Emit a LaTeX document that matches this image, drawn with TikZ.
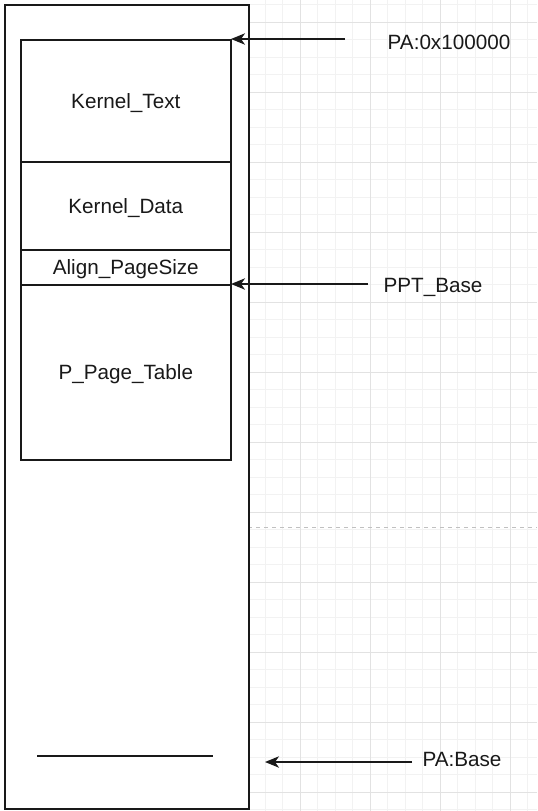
\documentclass[tikz,border=0pt]{standalone}
\usepackage{fontspec}
\setmainfont{Liberation Sans}
\usetikzlibrary{arrows.meta}
\definecolor{gridminor}{HTML}{F2F2F2}
\definecolor{gridmajor}{HTML}{E2E2E2}
\definecolor{pagebreak}{HTML}{C0C0C0}
\begin{document}
\begin{tikzpicture}[x=0.75pt,y=-0.75pt,
  box/.style={draw=black!90,line width=1.4pt},
  seg/.style={draw=black!90,line width=1.2pt,text depth=0pt},
  lbl/.style={font=\fontsize{15.5pt}{18pt}\selectfont,text=black!90},
  ptr/.style={draw=black!90,line width=1.2pt,-{Stealth[length=10.5pt,width=8.5pt,inset=3pt]}}]
\useasboundingbox (0,0) rectangle (537,811);
\fill[white] (0,0) rectangle (537,811);
% grid
\foreach \i in {2,...,35} {
  \draw[gridminor,line width=0.6pt] ({230+17.5*\i},0) -- ({230+17.5*\i},811);
}
\foreach \j in {0,...,47} {
  \draw[gridminor,line width=0.6pt] (248,{4.5+17.5*\j}) -- (537,{4.5+17.5*\j});
}
\foreach \i in {1,...,8} {
  \draw[gridmajor,line width=0.6pt] ({230+70*\i},0) -- ({230+70*\i},811);
}
\foreach \j in {0,...,11} {
  \draw[gridmajor,line width=0.6pt] (248,{22+70*\j}) -- (537,{22+70*\j});
}
\draw[pagebreak,dashed,line width=0.6pt] (248,527.3) -- (537,527.3);
% outer box
\node[box,fill=white,minimum width=244*0.75pt,minimum height=804*0.75pt,inner sep=0pt,anchor=north west] (outer) at (4,4) {};
% inner segments
\node[seg,minimum width=210*0.75pt,minimum height=122*0.75pt,inner sep=0pt,anchor=north west,lbl] (ktext) at (20,39) {Kernel\_Text};
\node[seg,minimum width=210*0.75pt,minimum height=88*0.75pt,inner sep=0pt,anchor=north west,lbl] (kdata) at (20,161) {Kernel\_Data};
\node[seg,minimum width=210*0.75pt,minimum height=35*0.75pt,inner sep=0pt,anchor=north west,lbl] (align) at (20,249) {Align\_PageSize};
\node[seg,minimum width=210*0.75pt,minimum height=175*0.75pt,inner sep=0pt,anchor=north west,lbl] (ppt) at (20,284) {P\_Page\_Table};
% bottom line
\coordinate (bl) at (37,756);
\coordinate (br) at (213,756);
\draw[seg] (bl) -- (br);
% labels
\node[lbl] (pa1) at (449,42) {PA:0x100000};
\node[lbl] (pptb) at (433,287) {PPT\_Base};
\node[lbl] (pab) at (462,759) {PA:Base};
\coordinate (a1s) at (345,39);
\coordinate (a1e) at (231,39);
\coordinate (a2s) at (368,284);
\coordinate (a2e) at (231,284);
\coordinate (a3s) at (412,762);
\coordinate (a3e) at (265,762);
\draw[ptr] (a1s) -- (a1e);
\draw[ptr] (a2s) -- (a2e);
\draw[ptr] (a3s) -- (a3e);
\end{tikzpicture}
\end{document}
